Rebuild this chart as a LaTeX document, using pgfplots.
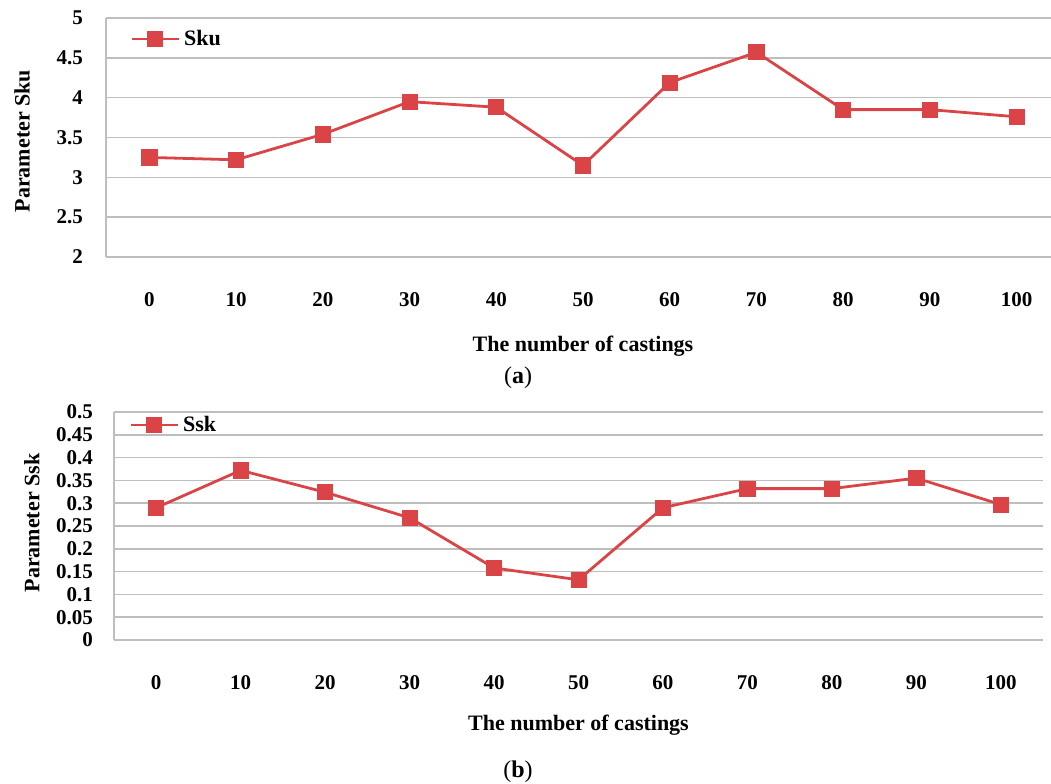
\documentclass[border=0pt]{standalone}
\usepackage{fontspec}
\setmainfont{Liberation Serif}
\usepackage{pgfplots}
\pgfplotsset{compat=1.18}
\definecolor{skured}{RGB}{219,68,70}
\definecolor{gridgray}{RGB}{190,190,190}
\begin{document}
\begin{tikzpicture}
\pgfplotsset{
 mystyle/.style={
  scale only axis,
  xmin=-5, xmax=105,
  xtick={0,10,20,30,40,50,60,70,80,90,100},
  xticklabels={0,10,20,30,40,50,60,70,80,90,100},
  major tick length=0pt,
  axis x line*=bottom, axis y line*=left,
  axis line style={gridgray, line width=0.8pt, -},
  ymajorgrids, grid style={gridgray, line width=0.8pt},
  tick label style={font=\fontsize{10.5}{12}\selectfont\bfseries},
  label style={font=\fontsize{11}{13}\selectfont\bfseries},
  xticklabel style={anchor=base, yshift=-24.5pt},
  legend style={draw=none, fill=none, font=\fontsize{11}{13}\selectfont\bfseries, anchor=west, inner sep=0pt},
  legend image code/.code={\draw[mark repeat=2,mark phase=2,##1] plot coordinates {(0pt,0pt) (11.75pt,0pt) (23.5pt,0pt)};},
 },
 myline/.style={color=skured, line width=1.4pt, mark=square*, mark size=3.8pt, mark options={solid, fill=skured, line width=0.4pt}},
}
\begin{axis}[mystyle,
  at={(53pt,263pt)}, anchor=south west,
  width=477pt, height=119.5pt,
  ymin=2, ymax=5,
  ytick={2,2.5,3,3.5,4,4.5,5},
  yticklabels={2,2.5,3,3.5,4,4.5,5},
  yticklabel style={xshift=-8pt},
  ylabel={Parameter Sku},
  ylabel style={at={(axis description cs:-0.088,0.485)}, anchor=center},
  xlabel={The number of castings},
  xlabel style={at={(axis description cs:0.5,-0.372)}, anchor=center},
  legend style={at={(axis description cs:0.025,0.912)}},
]
\addplot[myline] coordinates {(0,3.25)(10,3.22)(20,3.54)(30,3.95)(40,3.88)(50,3.15)(60,4.19)(70,4.57)(80,3.85)(90,3.85)(100,3.76)};
\addlegendentry{Sku}
\end{axis}
\begin{axis}[mystyle,
  at={(57pt,71.5pt)}, anchor=south west,
  width=464.5pt, height=114pt,
  ymin=0, ymax=0.5,
  ytick={0,0.05,0.1,0.15,0.2,0.25,0.3,0.35,0.4,0.45,0.5},
  yticklabels={0,0.05,0.1,0.15,0.2,0.25,0.3,0.35,0.4,0.45,0.5},
  yticklabel style={xshift=-7pt},
  ylabel={Parameter Ssk},
  ylabel style={at={(axis description cs:-0.0883,0.513)}, anchor=center},
  xlabel={The number of castings},
  xlabel style={at={(axis description cs:0.5,-0.373)}, anchor=center},
  legend style={at={(axis description cs:0.016,0.943)}},
]
\addplot[myline] coordinates {(0,0.29)(10,0.372)(20,0.324)(30,0.268)(40,0.158)(50,0.132)(60,0.29)(70,0.332)(80,0.332)(90,0.355)(100,0.297)};
\addlegendentry{Ssk}
\end{axis}
\node[font=\fontsize{12}{14}\selectfont] at (259pt,202.5pt) {(\textbf{a})};
\node[font=\fontsize{12}{14}\selectfont] at (259pt,5.5pt) {(\textbf{b})};
\pgfresetboundingbox
\useasboundingbox (0,0) rectangle (525.5pt,391.5pt);
\end{tikzpicture}
\end{document}
